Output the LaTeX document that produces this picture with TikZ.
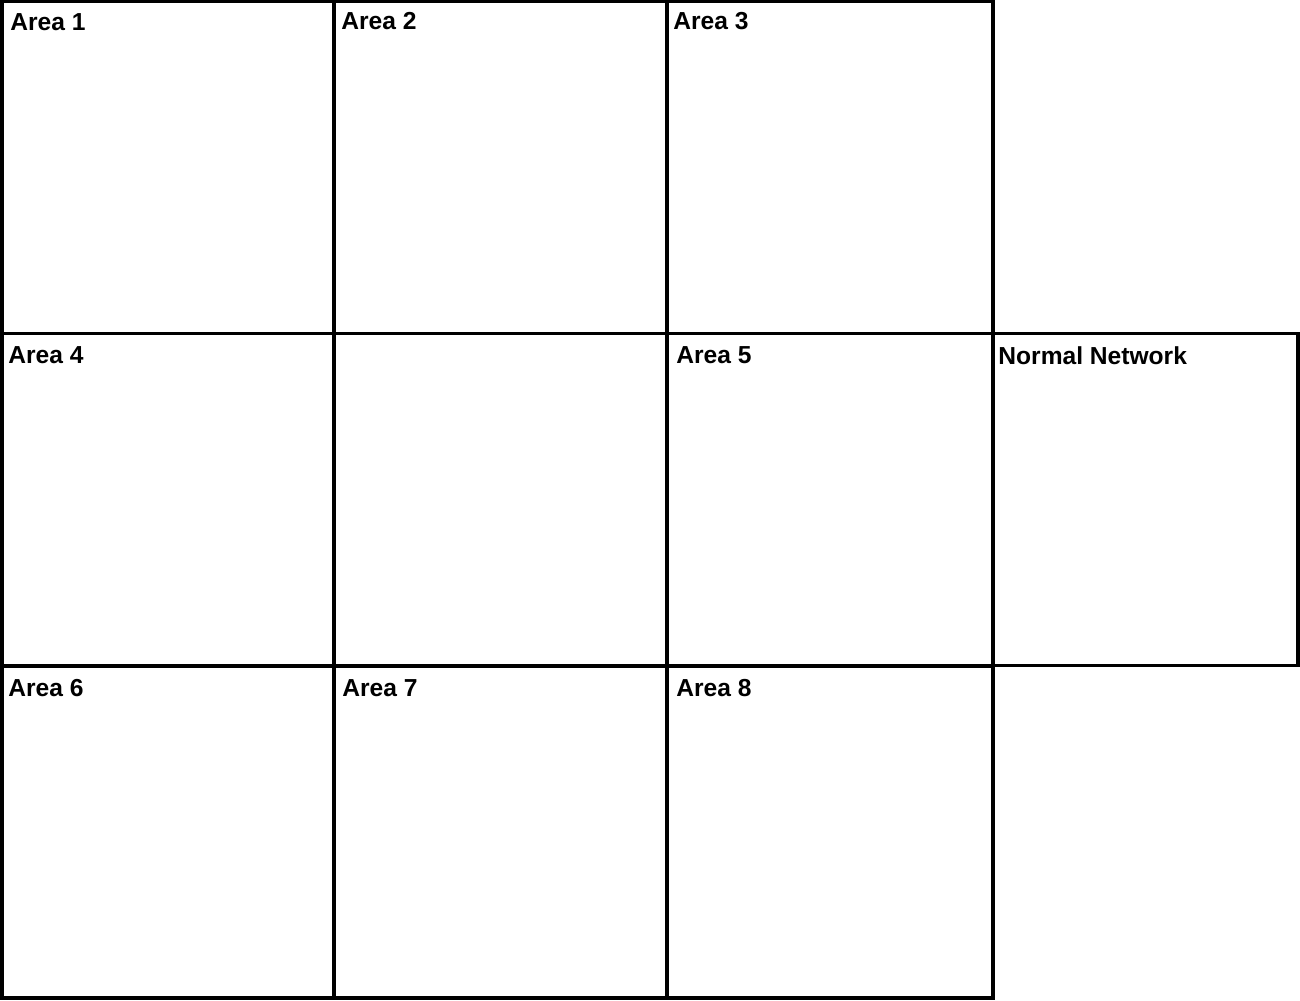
\documentclass[tikz,border=0pt]{standalone}
\usepackage{fontspec}
\setmainfont{Liberation Sans}
\usetikzlibrary{positioning}

\begin{document}
\begin{tikzpicture}[x=0.02cm, y=-0.02cm,
    area/.style={draw, line width=2pt, inner sep=0pt, outer sep=0pt, minimum height=6.64cm},
    areatitle/.style={inner sep=0pt, font=\fontsize{14pt}{16pt}\selectfont\bfseries, anchor=north west}]
    \useasboundingbox (0,0) rectangle (1300,1000);

    % grid of areas
    \node[area, minimum width=6.64cm] (a1) at (168,167.5) {};
    \node[area, minimum width=6.66cm] (a2) at (500.5,167.5) {};
    \node[area, minimum width=6.52cm] (a3) at (830,167.5) {};
    \node[area, minimum width=6.64cm] (a4) at (168,499.5) {};
    \node[area, minimum width=6.66cm] (mid) at (500.5,499.5) {};
    \node[area, minimum width=6.52cm] (a5) at (830,499.5) {};
    \node[area, minimum width=6.10cm] (nn) at (1145.5,499.5) {};
    \node[area, minimum width=6.64cm] (a6) at (168,832) {};
    \node[area, minimum width=6.66cm] (a7) at (500.5,832) {};
    \node[area, minimum width=6.52cm] (a8) at (830,832) {};

    % titles
    \node[areatitle, below right=0.24cm and 0.16cm of a1.north west] (t1) {Area 1};
    \node[areatitle, below right=0.20cm and 0.14cm of a2.north west] (t2) {Area 2};
    \node[areatitle, below right=0.20cm and 0.12cm of a3.north west] (t3) {Area 3};
    \node[areatitle, below right=0.26cm and 0.12cm of a4.north west] (t4) {Area 4};
    \node[areatitle, below right=0.26cm and 0.18cm of a5.north west] (t5) {Area 5};
    \node[areatitle, below right=0.26cm and 0.10cm of nn.north west] (tn) {Normal Network};
    \node[areatitle, below right=0.26cm and 0.12cm of a6.north west] (t6) {Area 6};
    \node[areatitle, below right=0.26cm and 0.16cm of a7.north west] (t7) {Area 7};
    \node[areatitle, below right=0.26cm and 0.18cm of a8.north west] (t8) {Area 8};
\end{tikzpicture}
\end{document}
